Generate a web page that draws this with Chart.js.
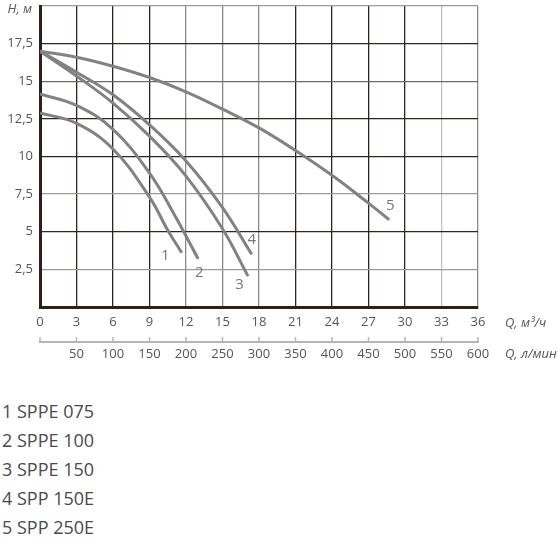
<!DOCTYPE html>
<html>
<head>
<meta charset="utf-8">
<script src="https://cdn.jsdelivr.net/npm/chart.js@4.4.1/dist/chart.umd.min.js"></script>
<style>
    body { margin: 0; background: #fff; width: 558px; height: 543px; overflow: hidden; }
    #wrap { position: relative; width: 558px; height: 370px; }
    #legend { margin-top: 27px; margin-left: 2px; font-family: "Open Sans", sans-serif; font-size: 18px; line-height: 29px; color: #4a4a4a; }
</style>
</head>
<body>
<div id="wrap"><canvas id="pumpChart" width="558" height="370"></canvas></div>
<div id="legend"></div>

<script>
// series: flow Q (m3/h) and head H (m)
const q1 = [0, 3, 6, 9, 10.5, 11.65];
const h1 = [12.9, 12.2, 10.5, 7.3, 5.1, 3.6];

const q2 = [0, 3, 6, 9, 11, 13.0];
const h2 = [14.15, 13.4, 11.8, 8.9, 6.2, 3.2];

const q3 = [0, 3, 6, 9, 12, 15, 17.1];
const h3 = [17.0, 15.35, 13.55, 11.35, 8.7, 5.2, 2.05];

const q4 = [0, 3, 6, 9, 12, 15, 17.4];
const h4 = [17.0, 15.6, 14.1, 12.1, 9.7, 6.6, 3.5];

const q5 = [0, 3, 6, 9, 12, 15, 18, 21, 24, 27, 28.7];
const h5 = [17.0, 16.6, 16.0, 15.25, 14.3, 13.15, 11.9, 10.4, 8.75, 6.9, 5.8];

const curveNumbers = ['1', '2', '3', '4', '5'];
const numberQ = [10.3, 13.1, 16.4, 17.4, 28.8];
const numberH = [3.4, 2.25, 1.5, 4.45, 6.7];

const modelNames = ['SPPE 075', 'SPPE 100', 'SPPE 150', 'SPP 150E', 'SPP 250E'];

const darkX = [0, 3, 6, 9, 21, 24, 27, 30];
const lightX = [33];
const darkY = [0, 5, 10, 12.5, 17.5];
const midY = [15];

const allQ = [q1, q2, q3, q4, q5];
const allH = [h1, h2, h3, h4, h5];

document.getElementById('legend').innerHTML = modelNames
    .map((name, i) => `<div>${curveNumbers[i]} ${name}</div>`).join('');

function toPoints(qs, hs) {
    return qs.map((q, i) => ({ x: q, y: hs[i] }));
}

const datasets = allQ.map((qs, i) => ({
    label: curveNumbers[i],
    data: toPoints(qs, allH[i]),
    borderColor: '#828282',
    borderWidth: 3,
    pointRadius: 0,
    tension: 0.4,
    fill: false
}));

const extras = {
    id: 'extras',
    afterDraw(chart) {
        const ctx = chart.ctx;
        const x = chart.scales.x;
        const y = chart.scales.y;
        const x2 = chart.scales.x2;
        ctx.save();

        // upward tick marks on the l/min axis
        ctx.strokeStyle = '#b5b5b5';
        ctx.lineWidth = 1.5;
        x2.ticks.forEach(t => {
            const px = x2.getPixelForValue(t.value);
            ctx.beginPath();
            ctx.moveTo(px, x2.top);
            ctx.lineTo(px, x2.top - 5);
            ctx.stroke();
        });

        // curve numbers
        ctx.fillStyle = '#777';
        ctx.font = '15px "Open Sans", sans-serif';
        ctx.textAlign = 'center';
        ctx.textBaseline = 'middle';
        curveNumbers.forEach((n, i) => {
            ctx.fillText(n, x.getPixelForValue(numberQ[i]), y.getPixelForValue(numberH[i]));
        });

        // axis titles
        ctx.fillStyle = '#555';
        ctx.font = 'italic 13px "Open Sans", sans-serif';
        ctx.textAlign = 'right';
        ctx.fillText('Н, м', 32, 9);
        ctx.textAlign = 'left';
        ctx.fillText('Q, м³/ч', 505, 323);
        ctx.fillText('Q, л/мин', 505, 354);
        ctx.restore();
    }
};

const ctx = document.getElementById('pumpChart').getContext('2d');

new Chart(ctx, {
    type: 'line',
    data: { datasets: datasets },
    plugins: [extras],
    options: {
        responsive: false,
        animation: false,
        layout: { padding: { top: 6, right: 80, left: 0, bottom: 0 } },
        plugins: { legend: { display: false }, tooltip: { enabled: false } },
        scales: {
            x: {
                type: 'linear',
                min: 0,
                max: 36,
                afterFit: s => { s.height = 35; },
                ticks: { stepSize: 3, color: '#555', font: { family: 'Open Sans', size: 13 }, padding: 7, maxRotation: 0 },
                grid: {
                    drawTicks: false,
                    lineWidth: 1.3,
                    color: c => darkX.includes(c.tick.value) ? '#2d261c'
                        : lightX.includes(c.tick.value) ? '#c2c2c2' : '#8c8a85'
                },
                border: { color: '#2b2116', width: 3 }
            },
            x2: {
                type: 'linear',
                position: 'bottom',
                min: 0,
                max: 600,
                afterFit: s => { s.height = 28; },
                ticks: {
                    stepSize: 50,
                    color: '#555',
                    font: { family: 'Open Sans', size: 13 },
                    padding: 4,
                    maxRotation: 0,
                    callback: v => v === 0 ? '' : v
                },
                grid: { drawOnChartArea: false, drawTicks: false },
                border: { color: '#b5b5b5', width: 2 }
            },
            y: {
                min: 0,
                max: 20,
                afterFit: s => { s.width = 40; s.paddingTop = 0; s.paddingBottom = 0; },
                ticks: {
                    stepSize: 2.5,
                    color: '#555',
                    font: { family: 'Open Sans', size: 13 },
                    padding: 7,
                    callback: v => (v === 0 || v === 20) ? '' : String(v).replace('.', ',')
                },
                grid: {
                    drawTicks: false,
                    lineWidth: 1.3,
                    color: c => darkY.includes(c.tick.value) ? '#2d261c'
                        : midY.includes(c.tick.value) ? '#6e6b66' : '#9c9a96'
                },
                border: { color: '#2b2116', width: 3 }
            }
        }
    }
});
</script>
</body>
</html>
